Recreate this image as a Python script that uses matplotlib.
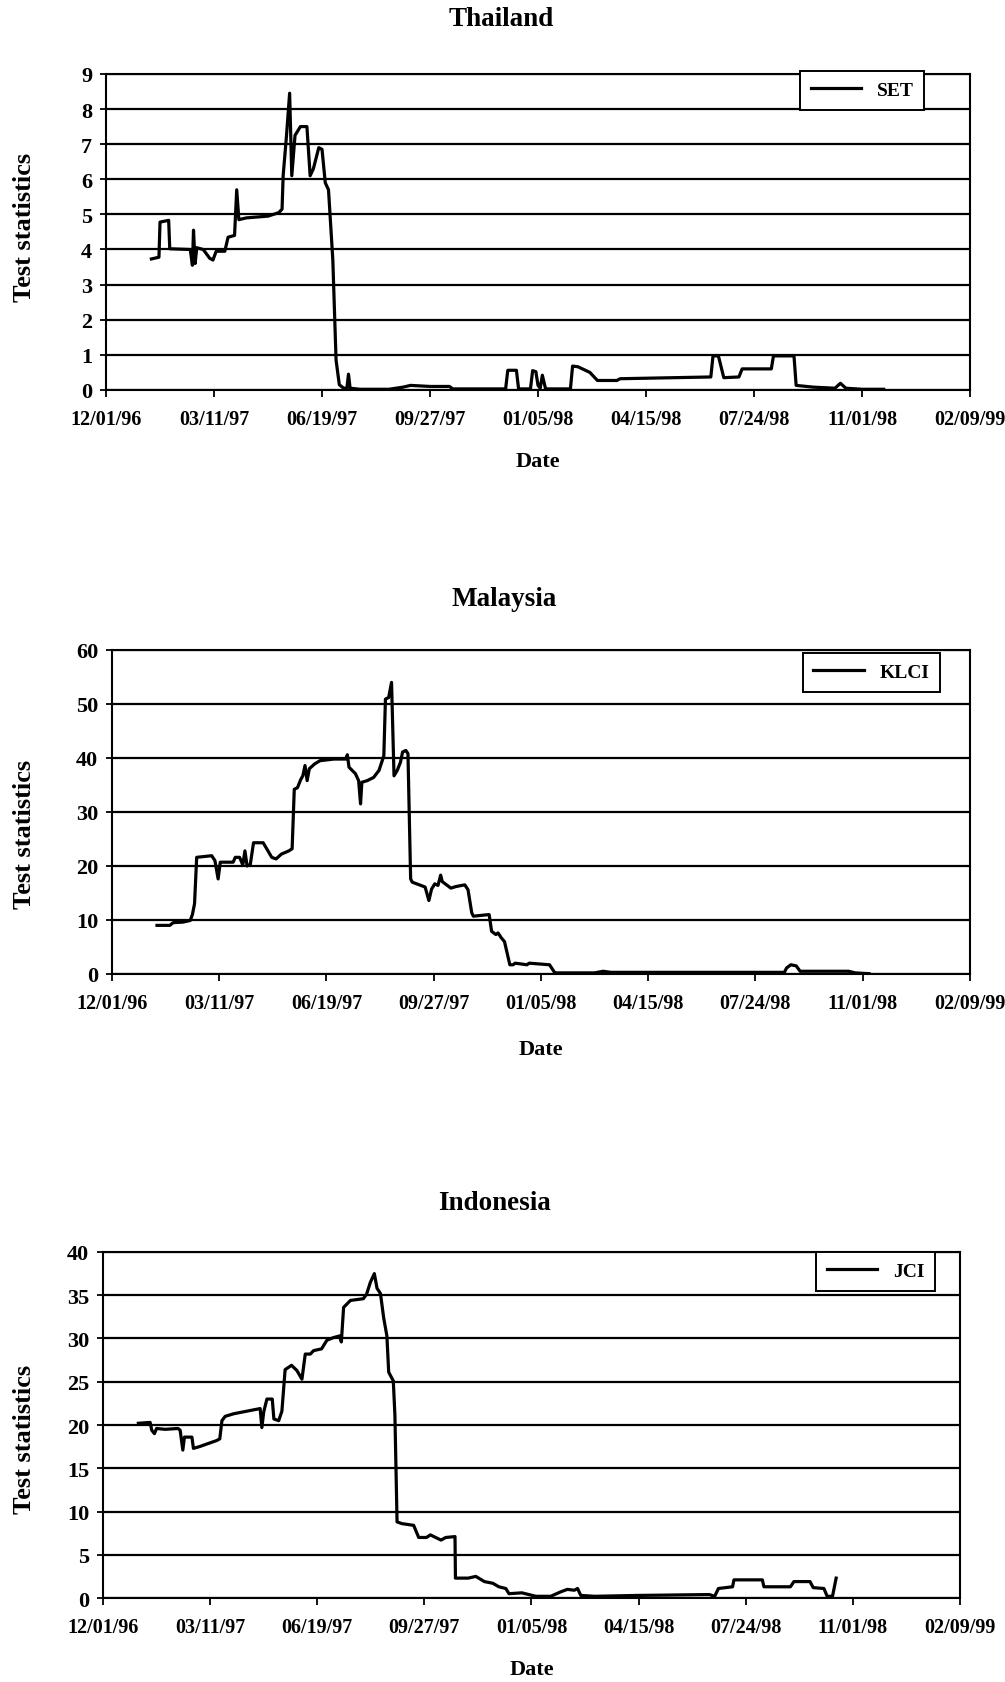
import numpy as np
import pandas as pd
import matplotlib
matplotlib.use("Agg")
import matplotlib.pyplot as plt
import matplotlib.dates as mdates

# Test statistics (days counted from 12/01/96)
set_days = [42, 49, 50, 58, 59, 78, 80, 81, 82.5, 84, 90, 96, 99, 102, 110, 113, 119,
            121, 123, 130, 150, 160, 163, 164, 167, 170, 172, 175, 180, 186, 189, 192,
            197, 200, 203, 206, 210, 213, 216, 220, 223, 224.5, 226, 235, 262, 275, 282,
            300, 318, 321, 370, 372, 380, 382, 393, 395, 398, 400, 402, 404, 407, 430,
            432, 437, 448, 455, 473, 476, 560, 562, 567, 572, 586, 589, 616, 618, 637,
            639, 655, 675, 680, 685, 700, 720]
set_vals = [3.73, 3.78, 4.78, 4.83, 4.02, 4.0, 3.55, 4.55, 3.6, 4.05, 4.0, 3.75, 3.7,
            3.95, 3.95, 4.35, 4.4, 5.7, 4.85, 4.9, 4.95, 5.05, 5.15, 6.1, 7.2, 8.45, 6.1,
            7.25, 7.5, 7.5, 6.1, 6.3, 6.9, 6.85, 5.9, 5.7, 3.7, 0.85, 0.15, 0.05, 0.05,
            0.45, 0.05, 0.02, 0.02, 0.08, 0.13, 0.1, 0.1, 0.03, 0.03, 0.56, 0.56, 0.03,
            0.03, 0.55, 0.52, 0.13, 0.05, 0.42, 0.03, 0.03, 0.68, 0.66, 0.5, 0.27, 0.27,
            0.32, 0.37, 0.97, 0.97, 0.35, 0.37, 0.6, 0.6, 0.97, 0.97, 0.13, 0.08, 0.05,
            0.19, 0.05, 0.02, 0.02]

klci_days = [42, 54, 57, 66, 73, 75, 77, 79, 93, 96, 99, 101, 113, 115, 119, 122, 124,
             126, 129, 132, 141, 149, 153, 158, 165, 168, 170, 173, 176, 178, 180, 182,
             184, 189, 194, 207, 218, 219.5, 221, 227, 230, 231.8, 233, 238, 244, 249,
             253.5, 255, 258, 260.7, 263, 266, 269, 271, 274, 276, 278.5, 280, 288, 292,
             295.5, 298, 301, 304, 306.5, 308, 316, 321, 329, 332, 335.5, 337, 351.7,
             354, 358, 360, 363, 366, 371, 374, 376, 387, 389, 408, 413, 450, 458, 465,
             627, 629, 633, 638, 641.7, 687, 693, 706]
klci_vals = [9.0, 9.0, 9.5, 9.6, 9.9, 11, 13, 21.6, 21.9, 21.0, 17.6, 20.7, 20.7, 21.6,
             21.6, 20.2, 22.8, 20.0, 20.3, 24.3, 24.3, 21.6, 21.3, 22.2, 22.8, 23.2, 34.2,
             34.5, 36.0, 36.7, 38.6, 35.8, 38.0, 38.9, 39.5, 39.8, 39.8, 40.6, 38.3, 37.1,
             35.8, 31.5, 35.5, 35.8, 36.4, 37.7, 40.4, 50.9, 51.2, 54.0, 36.7, 37.7, 39.2,
             41.1, 41.4, 40.8, 17.6, 17.0, 16.4, 16.1, 13.6, 15.7, 16.7, 16.4, 18.3, 17.1,
             15.9, 16.2, 16.5, 15.6, 11.3, 10.7, 11.0, 7.9, 7.3, 7.6, 6.7, 6.0, 1.7, 1.7,
             2.0, 1.7, 2.0, 1.7, 0.2, 0.2, 0.5, 0.3, 0.3, 1.1, 1.7, 1.5, 0.5, 0.5, 0.2,
             0.05]

jci_days = [33, 44, 45.5, 48, 50, 58, 70, 72, 74.5, 76, 83, 84.4, 90, 106, 109, 111, 114,
            122, 146.7, 148.3, 150, 153, 158, 159.5, 164, 167, 170, 176, 181, 185.7, 188.8,
            193.5, 196.6, 204, 209, 215, 221, 222.5, 224.6, 231, 243, 246, 249.6, 253.3,
            255.8, 259, 262, 265, 266.7, 271, 272.5, 274.5, 279, 290, 294.7, 302, 305.6,
            315.5, 320, 328.6, 329, 341, 348, 356, 364, 369.5, 376, 379, 391, 404, 418,
            427, 433.5, 440, 443, 446, 459, 500, 566, 571, 574.5, 587.7, 589, 615.5, 617,
            641.7, 645, 660, 663, 673, 676, 681, 684.4]
jci_vals = [20.2, 20.3, 19.4, 19.0, 19.6, 19.5, 19.6, 19.4, 17.1, 18.6, 18.6, 17.3, 17.5,
            18.2, 18.4, 20.5, 21.0, 21.3, 21.9, 19.7, 21.5, 23.0, 23.0, 20.7, 20.5, 21.6,
            26.4, 26.9, 26.3, 25.3, 28.2, 28.2, 28.6, 28.8, 29.8, 30.1, 30.3, 29.6, 33.6,
            34.4, 34.6, 35.1, 36.5, 37.5, 35.8, 35.2, 32.4, 30.3, 26.1, 25.1, 21.1, 8.8,
            8.6, 8.4, 7.0, 7.0, 7.3, 6.7, 7.0, 7.1, 2.3, 2.3, 2.5, 1.9, 1.7, 1.3, 1.1, 0.5,
            0.6, 0.2, 0.2, 0.7, 1.0, 0.9, 1.1, 0.3, 0.2, 0.3, 0.4, 0.2, 1.1, 1.3, 2.1, 2.1,
            1.3, 1.3, 1.9, 1.9, 1.2, 1.1, 0.2, 0.2, 2.3]

countries = ["Thailand", "Malaysia", "Indonesia"]
index_names = ["SET", "KLCI", "JCI"]
y_limits = [9, 60, 40]
y_steps = [1, 10, 5]

START = pd.Timestamp("1996-12-01")
tick_dates = [START + pd.Timedelta(days=100 * i) for i in range(9)]

plt.rcParams["font.family"] = ["Liberation Serif", "DejaVu Serif"]
plt.rcParams["font.weight"] = "bold"

fig = plt.figure(figsize=(10.05, 16.83), dpi=100)

# axes boxes in figure fractions
boxes = [
    [0.1055, 0.7677, 0.8597, 0.1878],
    [0.1114, 0.4207, 0.8537, 0.1925],
    [0.1025, 0.0499, 0.8527, 0.2056],
]
legend_anchor = [(0.947, 1.01), (0.965, 0.991), (0.971, 1.0)]
title_pos = [(0.4985, 0.9887), (0.5015, 0.6435), (0.4925, 0.2852)]
ylabel_pos = [(0.024, 0.8651), (0.024, 0.5039), (0.024, 0.1450)]
date_pos = [(0.5353, 0.7255), (0.5383, 0.3761), (0.5289, 0.0077)]

series = [(set_days, set_vals), (klci_days, klci_vals), (jci_days, jci_vals)]

for i, (days, vals) in enumerate(series):
    ax = fig.add_axes(boxes[i])
    dates = START + pd.to_timedelta(days, unit="D")
    ax.plot(dates, vals, color="black", linewidth=2.3, label=index_names[i])

    ax.set_xlim(tick_dates[0], tick_dates[-1])
    ax.set_xticks(tick_dates)
    ax.xaxis.set_major_formatter(mdates.DateFormatter("%m/%d/%y"))
    ax.set_ylim(0, y_limits[i])
    ax.set_yticks(np.arange(0, y_limits[i] + 1, y_steps[i]))

    ax.grid(axis="y", color="black", linewidth=1.6)
    ax.set_axisbelow(True)
    for sp in ax.spines.values():
        sp.set_color("black")
        sp.set_linewidth(1.5)
    ax.tick_params(axis="x", direction="out", length=5, width=1.3, pad=9, labelsize=14.5)
    ax.tick_params(axis="y", direction="out", length=4, width=1.3, pad=6, labelsize=16)

    leg = ax.legend(loc="upper right", bbox_to_anchor=legend_anchor[i], borderaxespad=0,
                    fancybox=False, framealpha=1, edgecolor="black", fontsize=14,
                    handlelength=2.6, borderpad=0.55)
    leg.get_frame().set_linewidth(1.4)

    fig.text(*title_pos[i], countries[i], ha="center", va="center", fontsize=19.5,
             weight="bold")
    fig.text(*ylabel_pos[i], "Test statistics", ha="center", va="center", fontsize=19,
             weight="bold", rotation=90)
    fig.text(*date_pos[i], "Date", ha="center", va="center", fontsize=16, weight="bold")

fig.savefig("out.png", dpi=100)
plt.close(fig)
